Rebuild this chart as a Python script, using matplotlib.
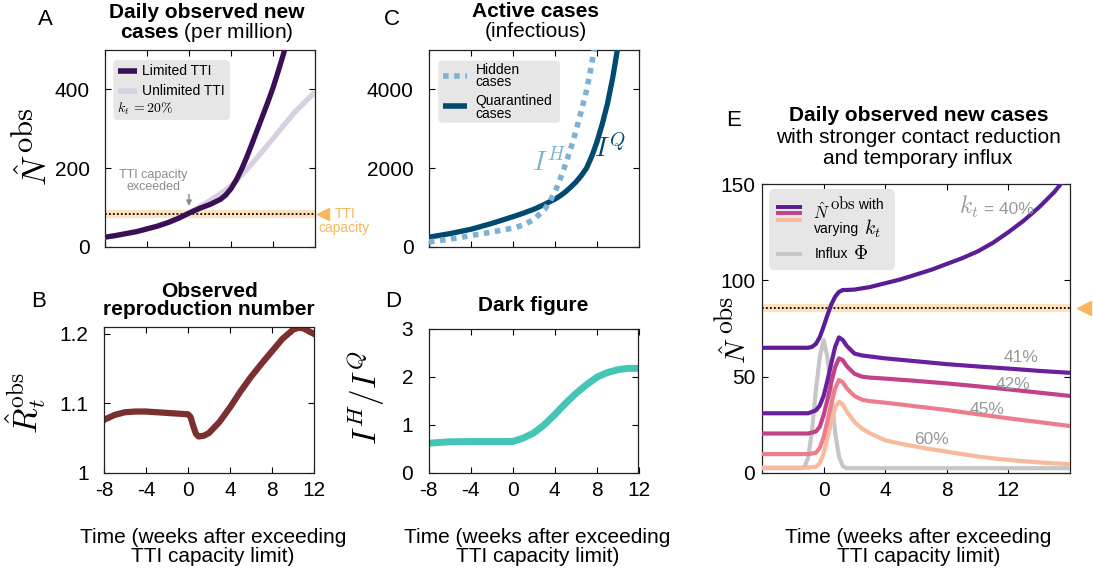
import numpy as np
import matplotlib
matplotlib.use('Agg')
from matplotlib import pyplot as plt
from matplotlib.patches import FancyBboxPatch

# ---- data (time in weeks after exceeding TTI capacity)
t_a = [-8, -7, -6, -5, -4, -3, -2, -1, 0, 1, 2, 3, 3.5, 4, 4.5, 5, 5.5, 6, 6.5, 7, 7.5, 8, 8.5, 9, 9.5]
n_limited = [25, 29, 34, 39, 46, 53, 62, 73, 86, 98, 108, 121, 132, 148, 170, 197, 228, 262, 297, 332, 367,
             404, 446, 490, 537]
t_unl = [-8, -7, -6, -5, -4, -3, -2, -1, 0, 1, 2, 3, 4, 5, 6, 7, 8, 9, 10, 11, 12]
n_unlimited = [25, 29, 34, 39, 46, 53, 62, 73, 86, 102, 118, 135, 155, 182, 212, 243, 275, 308, 340, 367, 393]
capacity_a = 84

t_b = [-8, -7, -6, -5, -4, -3, -2, -1, 0, 0.25, 0.5, 0.75, 1, 1.5, 2, 3, 4, 5, 6, 7, 8, 9, 10, 10.5, 11, 12]
r_obs = [1.076, 1.083, 1.087, 1.088, 1.088, 1.087, 1.086, 1.085, 1.084, 1.080, 1.067, 1.056, 1.052, 1.053,
         1.057, 1.073, 1.094, 1.117, 1.138, 1.157, 1.175, 1.193, 1.206, 1.209, 1.208, 1.200]

t_h = [-8, -6, -4, -2, 0, 1, 2, 3, 3.5, 4, 4.5, 5, 5.5, 6, 6.5, 7, 7.5, 7.8]
i_hidden = [130, 200, 290, 380, 480, 560, 700, 950, 1150, 1400, 1730, 2100, 2500, 2950, 3450, 3970, 4650, 5100]
t_q = [-8, -6, -4, -2, 0, 1, 2, 3, 3.5, 4, 4.5, 5, 5.5, 6, 6.5, 7, 7.5, 8, 8.5, 9, 9.5, 10]
i_quar = [250, 340, 450, 600, 770, 860, 960, 1080, 1150, 1215, 1300, 1400, 1520, 1650, 1810, 2000, 2300,
          2670, 3120, 3640, 4300, 5100]

t_d = [-8, -6, -4, -2, 0, 1, 2, 3, 4, 5, 6, 7, 8, 9, 10, 11, 12]
dark_fig = [0.61, 0.64, 0.645, 0.645, 0.645, 0.715, 0.82, 0.99, 1.2, 1.43, 1.64, 1.82, 1.98, 2.08, 2.14, 2.17, 2.17]

t_e40 = [-4, -2, -1, -0.75, -0.5, -0.25, 0, 0.25, 0.5, 0.75, 1, 1.25, 1.5, 2, 3, 4, 5, 6, 7, 8, 9, 10, 11, 12,
         13, 14, 15, 15.5]
n_k40 = [65, 65, 65, 65.5, 67, 70.5, 76, 82, 87.5, 91.5, 94, 95, 95, 95.2, 96.5, 98.5, 100.5, 103, 105.5, 108.5,
         111.5, 115, 119.5, 125, 131, 138, 146, 151]
t_e = [-4, -1, -0.5, -0.25, 0, 0.25, 0.5, 0.75, 1, 1.25, 1.5, 2, 2.5, 3, 4, 6, 8, 10, 12, 14, 16]
n_k41 = [31, 31, 32.5, 35, 40, 48, 57, 65.5, 70.4, 69, 66, 62, 61, 60.5, 59.5, 58, 56.5, 55.3, 54.2, 53, 52]
n_k42 = [20.5, 20.5, 21.5, 24, 30, 38, 47, 55, 59.5, 58.5, 55.5, 51.5, 50, 49.5, 49, 47.8, 46.5, 45, 43.4, 41.7, 40]
n_k45 = [9.8, 9.8, 10.5, 13, 18.5, 27, 36, 44, 48.3, 47, 44, 40, 38, 37.3, 36.5, 34.6, 32.7, 30.5, 28.4, 26.4, 24.4]
t_e60 = [-4, -1, -0.5, -0.25, 0, 0.25, 0.5, 0.75, 1, 1.25, 1.5, 2, 2.5, 3, 4, 5, 6, 7, 8, 9, 10, 11, 12, 13, 14,
         15, 16]
n_k60 = [2.8, 2.8, 3.2, 5, 10, 18, 27, 34, 37, 35.5, 32, 26.5, 23, 20.6, 17, 15.2, 13.7, 12.3, 11.1, 9.8, 8.6, 7.6,
         6.8, 6.1, 5.5, 5.0, 4.6]
t_phi = [-4, -1.5, -1.25, -1, -0.75, -0.5, -0.25, 0, 0.25, 0.5, 0.75, 1, 1.25, 1.5, 16]
influx = [2.5, 2.5, 3, 8, 22, 43, 60, 69, 60, 42, 21, 8.5, 3.5, 2.5, 2.5]
capacity_e = 85.5

k_labels = ['41%', '42%', '45%', '60%']
k_label_x = [12.8, 12.3, 10.6, 7.0]
k_label_y = [59.7, 45.7, 32.7, 17.5]

week_ticks = [-8, -4, 0, 4, 8, 12]
week_ticklabels = ['-8', '-4', '0', '4', '8', '12']

# ---- style
plt.rcParams['font.family'] = ['Liberation Sans', 'DejaVu Sans']
plt.rcParams['mathtext.fontset'] = 'cm'
plt.rcParams['mathtext.rm'] = 'Liberation Sans'
plt.rcParams['mathtext.bf'] = 'Liberation Sans:bold'
plt.rcParams['axes.unicode_minus'] = False
plt.rcParams['axes.linewidth'] = 0.9
plt.rcParams['axes.edgecolor'] = '#222222'
plt.rcParams['xtick.direction'] = 'in'
plt.rcParams['ytick.direction'] = 'in'
plt.rcParams['xtick.top'] = True
plt.rcParams['ytick.right'] = True
plt.rcParams['xtick.major.size'] = 4
plt.rcParams['ytick.major.size'] = 4
plt.rcParams['xtick.major.width'] = 0.8
plt.rcParams['ytick.major.width'] = 0.8
plt.rcParams['xtick.labelsize'] = 15
plt.rcParams['ytick.labelsize'] = 15
plt.rcParams['xtick.major.pad'] = 6
plt.rcParams['ytick.major.pad'] = 11

W, H = 1093, 575
fig = plt.figure(figsize=(W / 100, H / 100), dpi=100)


def box(l, t, r, b):
    # pixel box -> figure fraction rect
    return [l / W, 1 - b / H, (r - l) / W, (b - t) / H]


def ftext(px, py, s, **kw):
    return fig.text(px / W, 1 - py / H, s, **kw)


def nobs_ylabel(xn, yn, xo, yo, size):
    # N-hat with an "obs" exponent about as large as the letter itself
    ftext(xn, yn, r'$\hat{N}$', fontsize=size, rotation=90, ha='center', va='center')
    ftext(xo, yo, r'$\mathrm{obs}$', fontsize=size * 0.92, rotation=90, ha='center', va='center',
          math_fontfamily='cm')


axA = fig.add_axes(box(105, 50, 315, 247))
axB = fig.add_axes(box(104, 327, 314, 472.5))
axC = fig.add_axes(box(429, 50, 639, 247))
axD = fig.add_axes(box(428.5, 328.5, 638.5, 472.5))
axE = fig.add_axes(box(762, 184, 1070, 473))

orange = '#fbb55a'
band = '#fde2bf'
gray_txt = '#8c8c8c'


def legend_box(ax, x0, y0, x1, y1):
    p = FancyBboxPatch((x0, y0), x1 - x0, y1 - y0, boxstyle='round,pad=0,rounding_size=0.02',
                       transform=ax.transAxes, facecolor='#e6e6e6', edgecolor='none', zorder=6)
    ax.add_patch(p)


# ---- A: daily observed new cases
axA.axhline(capacity_a, color=band, lw=6, zorder=1)
axA.axhline(capacity_a, color='black', lw=1.3, ls=(0, (1, 1.2)), zorder=2)
axA.plot(t_unl, n_unlimited, color='#d8cfe1', lw=3.8, zorder=3, solid_capstyle='butt')
axA.plot(t_a, n_limited, color='#3a0f55', lw=3.8, zorder=4, solid_capstyle='butt')
axA.set_xlim(-8, 12)
axA.set_ylim(0, 500)
axA.set_xticks(week_ticks)
axA.set_xticklabels([])
axA.set_yticks([0, 200, 400])
nobs_ylabel(36, 170, 25, 130, 24)
axA.text(-3.4, 167, 'TTI capacity\nexceeded', ha='center', va='center', color=gray_txt, fontsize=9,
         linespacing=0.95)
axA.annotate('', xy=(0, 104), xytext=(0, 134),
             arrowprops=dict(arrowstyle='-|>', color=gray_txt, lw=1, mutation_scale=8, shrinkA=0, shrinkB=0))
axA.plot([12.8], [capacity_a], marker='<', color=orange, ms=8, clip_on=False, ls='none')
axA.text(14.9, capacity_a, 'TTI', color=orange, fontsize=10, ha='center', va='center', clip_on=False)
axA.text(14.8, 47, 'capacity', color=orange, fontsize=10, ha='center', va='center', clip_on=False)
legend_box(axA, 0.04, 0.645, 0.595, 0.949)
axA.plot([0.062, 0.152], [0.895, 0.895], transform=axA.transAxes, color='#3a0f55', lw=4, zorder=7,
         solid_capstyle='butt')
axA.plot([0.062, 0.152], [0.794, 0.794], transform=axA.transAxes, color='#d8cfe1', lw=4, zorder=7,
         solid_capstyle='butt')
axA.text(0.176, 0.895, 'Limited TTI', transform=axA.transAxes, fontsize=10, va='center', zorder=8)
axA.text(0.176, 0.794, 'Unlimited TTI', transform=axA.transAxes, fontsize=10, va='center', zorder=8)
axA.text(0.057, 0.70, r'$k_t\,=20\%$', transform=axA.transAxes, fontsize=10, va='center', zorder=8)

# ---- B: observed reproduction number
axB.plot(t_b, r_obs, color='#7b3030', lw=4.5)
axB.set_xlim(-8, 12)
axB.set_ylim(1, 1.21)
axB.set_xticks(week_ticks)
axB.set_xticklabels(week_ticklabels)
axB.set_yticks([1, 1.1, 1.2])
axB.set_yticklabels(['1', '1.1', '1.2'])
ftext(26, 403, r'$\hat{R}_t^{\rm obs}$', fontsize=24, rotation=90, ha='center', va='center')

# ---- C: active cases
axC.plot(t_q, i_quar, color='#00496f', lw=3.8, solid_capstyle='butt', zorder=3)
axC.plot(t_h, i_hidden, color='#7fb1d5', lw=4, ls=(0, (1, 1)), dash_capstyle='butt', zorder=4)
axC.set_xlim(-8, 12)
axC.set_ylim(0, 5000)
axC.set_xticks(week_ticks)
axC.set_xticklabels([])
axC.set_yticks([0, 2000, 4000])
axC.text(3.5, 2130, r'$I^H$', color='#7fb1d5', fontsize=20, ha='center', va='center')
axC.text(9.2, 2500, r'$I^Q$', color='#00496f', fontsize=20, ha='center', va='center')
legend_box(axC, 0.044, 0.631, 0.624, 0.946)
axC.plot([0.065, 0.182], [0.868, 0.868], transform=axC.transAxes, color='#7fb1d5', lw=4, ls=(0, (1, 1)),
         dash_capstyle='butt', zorder=7)
axC.plot([0.065, 0.182], [0.716, 0.716], transform=axC.transAxes, color='#00496f', lw=4, zorder=7,
         solid_capstyle='butt')
axC.text(0.222, 0.868, 'Hidden\ncases', transform=axC.transAxes, fontsize=10, va='center', zorder=8,
         linespacing=0.85)
axC.text(0.222, 0.709, 'Quarantined\ncases', transform=axC.transAxes, fontsize=10, va='center', zorder=8,
         linespacing=0.85)

# ---- D: dark figure
axD.plot(t_d, dark_fig, color='#45c5b5', lw=5)
axD.set_xlim(-8, 12)
axD.set_ylim(0, 3)
axD.set_xticks(week_ticks)
axD.set_xticklabels(week_ticklabels)
axD.set_yticks([0, 1, 2, 3])
ftext(366, 398, r'$I^H/I^Q$', fontsize=24, rotation=90, ha='center', va='center')

# ---- E: stronger contact reduction + influx
axE.axhline(capacity_e, color=band, lw=6, zorder=1)
axE.axhline(capacity_e, color='black', lw=1.3, ls=(0, (1, 1.2)), zorder=2)
axE.plot(t_phi, influx, color='#c6c6c6', lw=3, zorder=3)
e_cols = ['#f8b99c', '#ec7d8e', '#c3418a', '#6a1f9f']
axE.plot(t_e60, n_k60, color=e_cols[0], lw=3, zorder=4)
axE.plot(t_e, n_k45, color=e_cols[1], lw=3, zorder=5)
axE.plot(t_e, n_k42, color=e_cols[2], lw=3, zorder=6)
axE.plot(t_e, n_k41, color=e_cols[3], lw=3, zorder=7)
axE.plot(t_e40, n_k40, color='#5a1d96', lw=3, zorder=8)
axE.set_xlim(-4, 16)
axE.set_ylim(0, 150)
axE.set_xticks([0, 4, 8, 12])
axE.set_yticks([0, 50, 100, 150])
axE.tick_params(axis='y', pad=5)
nobs_ylabel(737, 351, 726, 315, 20)
for s, x, y in zip(k_labels, k_label_x, k_label_y):
    axE.text(x, y, s, color='#999999', fontsize=12.5, ha='center', va='center', zorder=9)
tk = axE.text(9.45, 138, r'$k_t$', color='#999999', fontsize=17, ha='center', va='center', zorder=9)
axE.annotate(' = 40%', xy=(1, 0.42), xycoords=tk, color='#999999', fontsize=12.5, va='center', zorder=9)
axE.plot([16.9], [capacity_e], marker='<', color=orange, ms=10, clip_on=False, ls='none')
legend_box(axE, 0.023, 0.702, 0.432, 0.983)
for yy, c in zip([0.920, 0.898, 0.876], ['#5a1d96', '#c3418a', '#f8b99c']):
    axE.plot([0.044, 0.129], [yy, yy], transform=axE.transAxes, color=c, lw=2.8, zorder=7,
             solid_capstyle='butt')
axE.plot([0.044, 0.129], [0.758, 0.758], transform=axE.transAxes, color='#c6c6c6', lw=2.8, zorder=7,
         solid_capstyle='butt')
t1 = axE.text(0.165, 0.905, r'$\hat{N}$', transform=axE.transAxes, fontsize=12, va='center', zorder=8)
t1b = axE.annotate(r'$\mathrm{obs}$', xy=(1.02, 0.45), xycoords=t1, fontsize=12, va='bottom', zorder=8)
axE.annotate(' with', xy=(1, 0.0), xycoords=t1b, fontsize=10, va='bottom', zorder=8)
t2 = axE.text(0.17, 0.845, 'varying', transform=axE.transAxes, fontsize=10, va='center', zorder=8)
axE.annotate(r' $k_t$', xy=(1, 0.5), xycoords=t2, fontsize=14, va='center', zorder=8)
t3 = axE.text(0.17, 0.758, 'Influx', transform=axE.transAxes, fontsize=10, va='center', zorder=8)
axE.annotate(r' $\Phi$', xy=(1, 0.5), xycoords=t3, fontsize=14, va='center', zorder=8)

# ---- titles, letters, x labels
ftext(207, 18, 'Daily observed new', fontsize=15, fontweight='bold', ha='center', va='baseline')
ftext(207, 38, r'$\mathbf{cases}$ (per million)', fontsize=15, ha='center', va='baseline',
      math_fontfamily='custom')
ftext(535, 17, 'Active cases', fontsize=15, fontweight='bold', ha='center', va='baseline')
ftext(536, 37, '(infectious)', fontsize=15, ha='center', va='baseline')
ftext(209, 297, 'Observed', fontsize=15, fontweight='bold', ha='center', va='baseline')
ftext(209, 315, 'reproduction number', fontsize=15, fontweight='bold', ha='center', va='baseline')
ftext(533, 311, 'Dark figure', fontsize=15, fontweight='bold', ha='center', va='baseline')
ftext(919, 121, 'Daily observed new cases', fontsize=15, fontweight='bold', ha='center', va='baseline')
ftext(918, 143, 'with stronger contact reduction', fontsize=15, ha='center', va='baseline')
ftext(918, 164, 'and temporary influx', fontsize=15, ha='center', va='baseline')

for s, x, y in [('A', 45.5, 25), ('B', 39, 306.5), ('C', 392, 25), ('D', 393, 306.5), ('E', 734, 126.5)]:
    ftext(x, y, s, fontsize=16, ha='center', va='baseline')

for cx in [213, 537.5, 918.5]:
    ftext(cx, 543, 'Time (weeks after exceeding', fontsize=15, ha='center', va='baseline')
    ftext(cx, 561.5, 'TTI capacity limit)', fontsize=15, ha='center', va='baseline')

fig.savefig('out.png', dpi=100)
